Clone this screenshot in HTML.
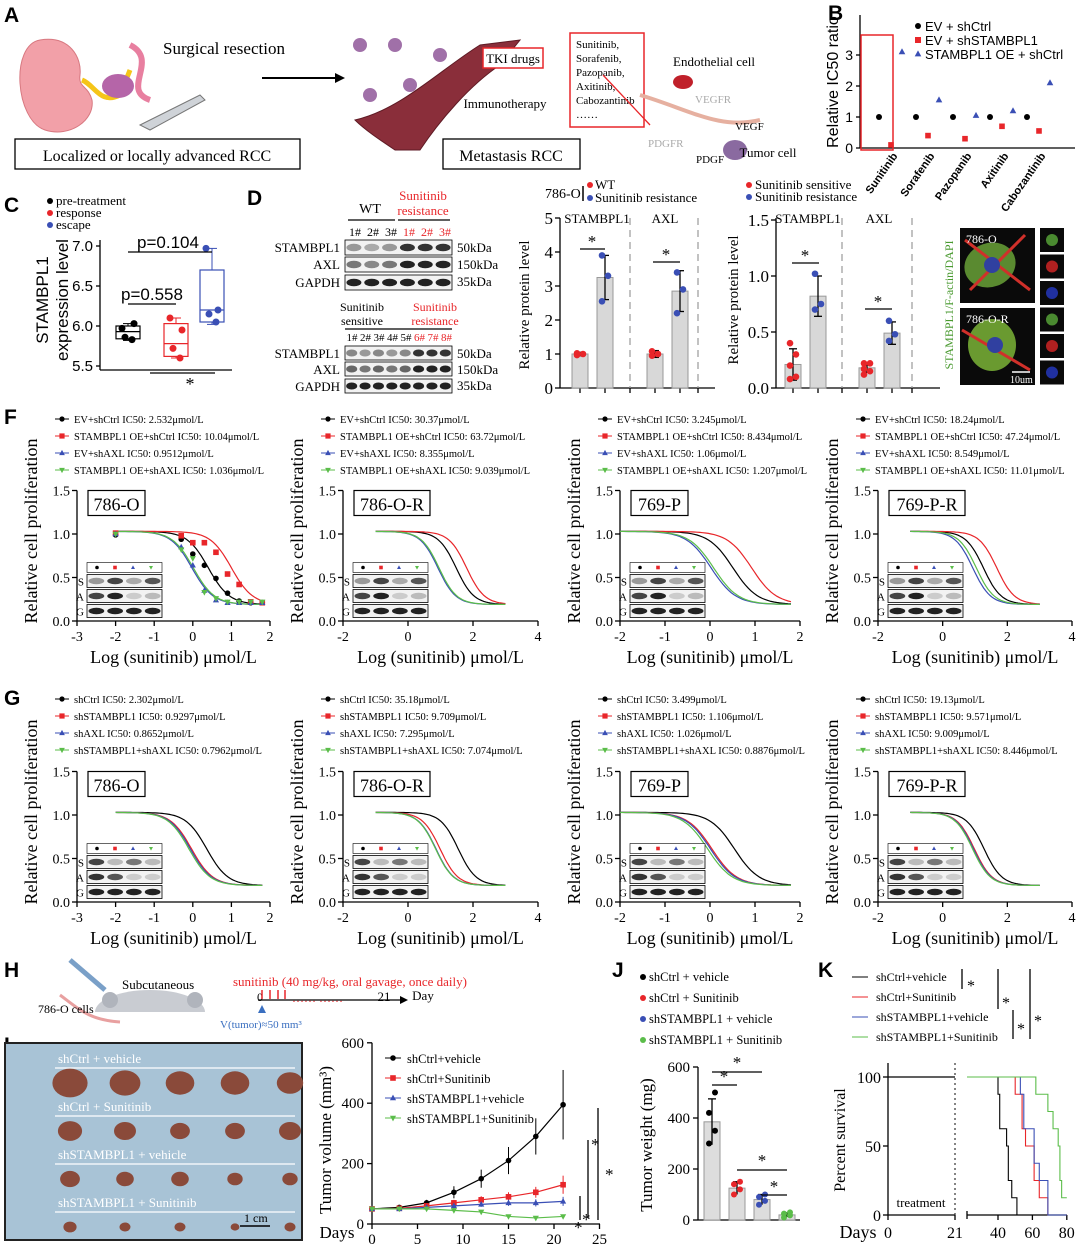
<!DOCTYPE html>
<html><head><meta charset="utf-8">
<style>
html,body{margin:0;padding:0;background:#fff;}
svg{display:block;font-family:"Liberation Serif",serif;}
</style></head>
<body>
<svg id="fig" xmlns="http://www.w3.org/2000/svg" width="1080" height="1244" viewBox="0 0 1080 1244"></svg>
<script>
// ===== Data arrays =====
const bDrugs=['Sunitinib','Sorafenib','Pazopanib','Axitinib','Cabozantinib'];
const bEV=[1,1,1,1,1];
const bSh=[0.1,0.4,0.3,0.7,0.55];
const bOE=[3.1,1.55,1.05,1.2,2.1];
const bTicks=[0,1,2,3];

const cGroups=['pre-treatment','response','escape'];
const cPoints=[[5.97,6.03,5.86,5.83],[6.1,5.95,5.72,5.6],[6.97,6.2,6.15,6.05]];
const cBox=[[5.84,5.93,6.0],[5.62,5.78,6.03],[6.05,6.2,6.7]];
const cWhisk=[[5.82,6.03],[5.6,6.1],[6.02,6.97]];
const cTicks=[5.5,6.0,6.5,7.0];

const d1Vals=[1.0,3.25,1.0,2.85];
const d1Err=[0.05,0.65,0.1,0.6];
const d1Pts=[[0.97,1.0,1.02],[2.55,3.3,3.9],[0.95,1.0,1.08],[2.2,2.9,3.4]];
const d1Ticks=[0,1,2,3,4,5];
const d2Vals=[0.21,0.82,0.18,0.49];
const d2Err=[0.14,0.18,0.04,0.1];
const d2Pts=[[0.08,0.1,0.2,0.3,0.4],[0.7,0.75,1.02],[0.12,0.15,0.17,0.22,0.22],[0.42,0.48,0.6]];
const d2Ticks=[0,0.5,1.0,1.5];

const drCells=['786-O','786-O-R','769-P','769-P-R'];
const fNames=['EV+shCtrl','STAMBPL1 OE+shCtrl','EV+shAXL','STAMBPL1 OE+shAXL'];
const fIC50=[[2.532,10.04,0.9512,1.036],[30.37,63.72,8.355,9.039],[3.245,8.434,1.060,1.207],[18.24,47.24,8.549,11.01]];
const gNames=['shCtrl','shSTAMBPL1','shAXL','shSTAMBPL1+shAXL'];
const gIC50=[[2.302,0.9297,0.8652,0.7962],[35.18,9.709,7.295,7.074],[3.499,1.106,1.026,0.8876],[19.13,9.571,9.009,8.446]];
const drXTicks=[[-3,-2,-1,0,1,2],[-2,0,2,4],[-2,-1,0,1,2],[-2,0,2,4]];
const drDoseRange=[[-2,1.8],[-1,3],[-2,1.8],[-1,3]];
const f1Doses=[-2,-0.3,0,0.3,0.6,0.9,1.2,1.5,1.8];
const f1Pts=[[0.99,0.94,0.77,0.64,0.49,0.32,0.23,0.21,0.21],[1.01,0.98,0.90,0.90,0.79,0.54,0.42,0.22,0.21],[1.0,0.85,0.64,0.35,0.24,0.21,0.21,0.21,0.21],[1.0,0.82,0.72,0.33,0.26,0.22,0.22,0.22,0.22]];

const iDays=[0,3,6,9,12,15,18,21];
const iNames=['shCtrl+vehicle','shCtrl+Sunitinib','shSTAMBPL1+vehicle','shSTAMBPL1+Sunitinib'];
const iVals=[[50,55,70,105,150,210,290,395],[50,52,60,70,80,90,105,130],[50,50,55,60,65,70,70,75],[50,50,50,45,40,25,20,25]];
const iErr=[[5,5,10,20,30,45,60,115],[5,5,8,10,12,15,18,30],[5,5,5,8,8,10,12,15],[5,5,5,5,5,5,5,5]];
const iXTicks=[0,5,10,15,20,25];
const iYTicks=[0,200,400,600];

const jNames=['shCtrl + vehicle','shCtrl + Sunitinib','shSTAMBPL1 + vehicle','shSTAMBPL1 + Sunitinib'];
const jVals=[385,125,80,20];
const jErr=[90,25,20,8];
const jPts=[[300,350,420,500],[100,120,140,150],[60,75,90,100],[10,18,25,30]];
const jTicks=[0,200,400,600];

const kNames=['shCtrl+vehicle','shCtrl+Sunitinib','shSTAMBPL1+vehicle','shSTAMBPL1+Sunitinib'];
const kN=[8,8,8,8];
const kDeaths=[[40,41,41,45,46,46,48,51],[50,54,54,56,61,61,64,69],[53,55,55,61,61,64,69,69],[62,69,72,75,76,76,77]];
const kXTicks=[40,60,80];

const COL=['#000','#e8262a','#3a4fb5','#5bbd4a'];
const MK=['circle','square','tri','tridown'];

// ===== helpers =====
const NS='http://www.w3.org/2000/svg';
const S=document.getElementById('fig');
function mk(tag,attrs,name,parent){
  const e=document.createElementNS(NS,tag);
  for(const k in attrs)e.setAttribute(k,attrs[k]);
  
  
  (parent||S).appendChild(e);return e;
}
function T(x,y,s,size,name,o){
  o=o||{};
  const a={x:x,y:y,'font-size':size,fill:o.fill||'#000'};
  if(o.anchor)a['text-anchor']=o.anchor;
  if(o.weight)a['font-weight']=o.weight;
  if(o.rot!==undefined)a.transform='rotate('+o.rot+' '+x+' '+y+')';
  if(o.sans)a['font-family']='"Liberation Sans",sans-serif';
  const e=mk('text',a,name);e.textContent=s;return e;
}
function L(x1,y1,x2,y2,name,c,w,dash){const a={x1:x1,y1:y1,x2:x2,y2:y2,stroke:c||'#000','stroke-width':w||1.3};if(dash)a['stroke-dasharray']=dash;return mk('line',a,name);}
function R(x,y,w,h,name,fill,stroke,sw){return mk('rect',{x:x,y:y,width:w,height:h,fill:fill||'none',stroke:stroke||'none','stroke-width':sw||1},name);}
function marker(type,x,y,s,c,name){
  if(type==='circle')return mk('circle',{cx:x,cy:y,r:s,fill:c},name);
  if(type==='square')return R(x-s,y-s,2*s,2*s,name,c);
  if(type==='tri')return mk('polygon',{points:`${x},${y-s*1.2} ${x-s*1.1},${y+s*0.8} ${x+s*1.1},${y+s*0.8}`,fill:c},name);
  return mk('polygon',{points:`${x},${y+s*1.2} ${x-s*1.1},${y-s*0.8} ${x+s*1.1},${y-s*0.8}`,fill:c},name);
}
function letter(x,y,s){T(x,y,s,21,'panel-label-'+s.toLowerCase(),{weight:'bold',sans:true});}

// ===== Panel A =====
letter(4,22,'A');
mk('path',{d:'M40 40 C10 45 15 120 45 130 C70 138 95 120 92 100 C88 85 78 88 80 75 C82 58 70 35 40 40Z',fill:'#f2a0a8',stroke:'#d87880'},'kidney');
mk('path',{d:'M82 80 C95 85 100 105 120 95 L130 70',fill:'none',stroke:'#f5c518','stroke-width':5},'ureter');
mk('ellipse',{cx:118,cy:86,rx:16,ry:12,fill:'#b565a8'},'tumor-mass');
mk('path',{d:'M130 45 C160 60 120 90 150 100',fill:'none',stroke:'#e87fa0','stroke-width':6},'renal-vessel');
mk('path',{d:'M140 125 L200 95 L205 100 L150 130 Z',fill:'#cfd3d8',stroke:'#777'},'scalpel');
T(163,54,'Surgical resection',17,'surgical-resection-label');
L(262,78,335,78,'arrow-a','#000',2);
mk('polygon',{points:'335,73 345,78 335,83',fill:'#000'},'arrow-a-head');
R(15,139,285,30,'localized-rcc-box','#fff','#000',1.3);
T(157,161,'Localized or locally advanced RCC',16,'localized-rcc-label',{anchor:'middle'});
mk('path',{d:'M355 120 C400 110 440 70 480 45 L520 40 L500 65 C470 85 440 120 420 150 L395 150 C380 140 365 130 355 120Z',fill:'#8a2e3a',stroke:'#5e1a24'},'blood-vessel');
[[370,95],[395,45],[440,55],[360,45],[410,85]].forEach((p,i)=>mk('circle',{cx:p[0],cy:p[1],r:7,fill:'#a070a8'},'tumor-cell-cluster'));
R(483,48,60,20,'tki-drugs-box','#fff','#e8262a',1.5);
T(513,63,'TKI drugs',13,'tki-drugs-label',{anchor:'middle'});
T(505,108,'Immunotherapy',13,'immunotherapy-label',{anchor:'middle'});
R(570,33,74,94,'drug-list-box','#fff','#e8262a',1.5);
['Sunitinib,','Sorafenib,','Pazopanib,','Axitinib,','Cabozantinib','……'].forEach((s,i)=>T(576,48+i*14,s,11,'drug-list-item'));
R(443,139,137,30,'metastasis-rcc-box','#fff','#000',1.3);
T(511,161,'Metastasis RCC',16,'metastasis-rcc-label',{anchor:'middle'});
T(714,66,'Endothelial cell',13,'endothelial-cell-label',{anchor:'middle'});
mk('ellipse',{cx:683,cy:82,rx:10,ry:7,fill:'#c0202a'},'endothelial-cell');
mk('path',{d:'M640 95 C690 110 720 130 760 120',fill:'none',stroke:'#e6b0a0','stroke-width':4},'vegfr-path');
T(695,103,'VEGFR',11,'vegfr-label',{fill:'#aaa'});
T(735,130,'VEGF',11,'vegf-label');
T(648,147,'PDGFR',11,'pdgfr-label',{fill:'#aaa'});
T(696,163,'PDGF',11,'pdgf-label');
mk('ellipse',{cx:735,cy:150,rx:12,ry:10,fill:'#8a6aa0'},'tumor-cell');
T(768,157,'Tumor cell',13,'tumor-cell-label',{anchor:'middle'});
mk('path',{d:'M603 75 L650 125',stroke:'#e8262a','stroke-width':1.3,fill:'none'},'drug-arrow');

// ===== Panel B =====
letter(828,20,'B');
(function(){
  const x0=860,y0=148,sy=31,xe=1075;
  const ys=v=>y0-v*sy;
  L(x0,y0,xe,y0,'b-x-axis');L(x0,y0,x0,15,'b-y-axis');
  bTicks.forEach(t=>{L(x0-4,ys(t),x0,ys(t),'b-y-tick');T(x0-7,ys(t)+5,String(t),14,'b-y-tick-label',{anchor:'end',sans:true});});
  T(838,82,'Relative IC50 ratio',16,'b-y-axis-title',{anchor:'middle',rot:-90,sans:true});
  R(861,35,32,115,'b-sunitinib-highlight','none','#e8262a',1.5);
  bDrugs.forEach((d,i)=>{
    const cx=890+i*37;
    marker('circle',cx-11,ys(bEV[i]),3,'#000','b-point-ev-shctrl');
    marker('square',cx+1,ys(bSh[i]),2.8,'#e8262a','b-point-ev-shstambpl1');
    marker('tri',cx+12,ys(bOE[i]),3,'#3a4fb5','b-point-oe-shctrl');
    T(cx+8,y0+8,d,11,'b-x-label-'+d.toLowerCase(),{anchor:'end',rot:-55,weight:'bold',sans:true});
  });
  const lg=[['EV + shCtrl','circle','#000'],['EV + shSTAMBPL1','square','#e8262a'],['STAMBPL1 OE + shCtrl','tri','#3a4fb5']];
  lg.forEach((l,i)=>{marker(l[1],918,26+i*14,3,l[2],'b-legend-marker');T(925,31+i*14,l[0],13,'b-legend-entry',{sans:true});});
})();

// ===== Panel C =====
letter(4,212,'C');
(function(){
  const x0=100,y0=370,sy=80,ys=v=>y0-4-(v-5.5)*sy;
  L(x0,240,x0,y0,'c-y-axis');L(x0,y0,232,y0,'c-x-axis');
  cTicks.forEach(t=>{L(x0-4,ys(t),x0,ys(t),'c-y-tick');T(x0-7,ys(t)+5,t.toFixed(1),15,'c-y-tick-label',{anchor:'end',sans:true});});
  T(48,300,'STAMBPL1',17,'c-y-axis-title',{anchor:'middle',rot:-90,sans:true});
  T(68,300,'expression level',17,'c-y-axis-title-2',{anchor:'middle',rot:-90,sans:true});
  const xs=[128,176,212],cols=['#000','#e8262a','#3a4fb5'];
  cGroups.forEach((g,i)=>{
    const x=xs[i],c=cols[i];
    L(x,ys(cWhisk[i][0]),x,ys(cWhisk[i][1]),'c-whisker-'+g,c,1);
    L(x-5,ys(cWhisk[i][0]),x+5,ys(cWhisk[i][0]),'c-whisker-cap',c,1);L(x-5,ys(cWhisk[i][1]),x+5,ys(cWhisk[i][1]),'c-whisker-cap',c,1);
    R(x-12,ys(cBox[i][2]),24,ys(cBox[i][0])-ys(cBox[i][2]),'c-box-'+g,'#fff',c,1.2);
    L(x-12,ys(cBox[i][1]),x+12,ys(cBox[i][1]),'c-median-'+g,c,1.2);
    cPoints[i].forEach((v,j)=>mk('circle',{cx:x+[-6,6,-3,4][j],cy:ys(v),r:3.5,fill:c},'c-point-'+g));
    mk('circle',{cx:50,cy:201+i*12,r:3,fill:c},'c-legend-marker');T(56,205+i*12,g,13,'c-legend-entry');
  });
  L(128,252,212,252,'c-sig-bar');T(168,248,'p=0.104',17,'c-pvalue-1',{anchor:'middle',sans:true});
  L(128,304,176,304,'c-sig-bar');T(152,300,'p=0.558',17,'c-pvalue-2',{anchor:'middle',sans:true});
  L(150,373,215,373,'c-sig-bar');T(190,390,'*',18,'c-sig-star',{anchor:'middle'});
})();

// ===== Panel D blots =====
letter(247,205,'D');
function blotRow(x,y,w,h,n,name,shade){
  R(x,y,w,h,name,'#f2f2f2','#000',0.8);
  for(let i=0;i<n;i++){const bw=w/n;mk('ellipse',{cx:x+bw*(i+0.5),cy:y+h/2,rx:bw*0.42,ry:h*0.25,fill:shade[i]},name+'-band');}
}
T(370,213,'WT',14,'d-wt-label',{anchor:'middle'});L(348,220,395,220,'d-wt-line');
T(423,200,'Sunitinib',13,'d-resist-label',{anchor:'middle',fill:'#e8262a'});T(423,215,'resistance',13,'d-resist-label-2',{anchor:'middle',fill:'#e8262a'});L(398,220,450,220,'d-resist-line');
['1#','2#','3#','1#','2#','3#'].forEach((s,i)=>T(355+i*18,236,s,12,'d-lane-label',{anchor:'middle',fill:i>2?'#e8262a':'#000'}));
blotRow(345,240,107,15,6,'d-blot-stambpl1',['#999','#aaa','#999','#333','#333','#333']);
blotRow(345,257,107,15,6,'d-blot-axl',['#777','#888','#777','#222','#222','#222']);
blotRow(345,275,107,15,6,'d-blot-gapdh',['#222','#222','#222','#222','#222','#222']);
[['STAMBPL1',252],['AXL',269],['GAPDH',287]].forEach(r=>T(340,r[1],r[0],13,'d-blot-label',{anchor:'end'}));
['50kDa','150kDa','35kDa'].forEach((s,i)=>T(457,252+i*17,s,13,'d-kda-label'));
T(362,311,'Sunitinib',12,'d-sens-label',{anchor:'middle'});T(362,325,'sensitive',12,'d-sens-label-2',{anchor:'middle'});
T(435,311,'Sunitinib',12,'d-res2-label',{anchor:'middle',fill:'#e8262a'});T(435,325,'resistance',12,'d-res2-label-2',{anchor:'middle',fill:'#e8262a'});
L(345,329,452,329,'d-group-line');
for(let i=0;i<8;i++)T(352+i*13.5,341,(i+1)+'#',11,'d-lane-label-2',{anchor:'middle',fill:i>4?'#e8262a':'#000'});
blotRow(345,346,107,14,8,'d-blot2-stambpl1',['#888','#999','#888','#999','#888','#333','#333','#333']);
blotRow(345,362,107,14,8,'d-blot2-axl',['#666','#777','#666','#777','#666','#222','#222','#222']);
blotRow(345,379,107,14,8,'d-blot2-gapdh',['#222','#222','#222','#222','#222','#222','#222','#222']);
[['STAMBPL1',358],['AXL',374],['GAPDH',391]].forEach(r=>T(340,r[1],r[0],13,'d-blot2-label',{anchor:'end'}));
['50kDa','150kDa','35kDa'].forEach((s,i)=>T(457,358+i*16,s,13,'d-kda2-label'));

// ===== Panel D bar charts =====
function barChart(cfg){
  const ys=v=>cfg.y0-v*cfg.sy;
  L(cfg.x0,cfg.top,cfg.x0,cfg.y0,cfg.id+'-y-axis');L(cfg.x0,cfg.y0,cfg.xe,cfg.y0,cfg.id+'-x-axis');
  cfg.ticks.forEach(t=>{L(cfg.x0-5,ys(t),cfg.x0,ys(t),cfg.id+'-y-tick');T(cfg.x0-7,ys(t)+6,cfg.fmt(t),17,cfg.id+'-y-tick-label',{anchor:'end'});});
  cfg.divs.forEach(d=>L(d,cfg.top,d,cfg.y0,cfg.id+'-divider','#999',1.2,'7,5'));
  cfg.vals.forEach((v,i)=>{
    const x=cfg.xs[i];
    L(x,cfg.y0,x,cfg.y0+5,cfg.id+'-x-tick');
    R(x-8,ys(v),16,cfg.y0-ys(v),cfg.id+'-bar','#d8d8d8','#999',1);
    L(x,ys(v-cfg.err[i]),x,ys(v+cfg.err[i]),cfg.id+'-errbar');L(x-4,ys(v+cfg.err[i]),x+4,ys(v+cfg.err[i]),cfg.id+'-errcap');L(x-4,ys(v-cfg.err[i]),x+4,ys(v-cfg.err[i]),cfg.id+'-errcap');
    cfg.pts[i].forEach((p,j)=>mk('circle',{cx:x+(j%2?3:-3),cy:ys(p),r:3.3,fill:i%2?'#3a4fb5':'#e8262a'},cfg.id+'-point'));
  });
  cfg.divs.forEach(d=>L(d,cfg.y0,d,cfg.y0+5,cfg.id+'-x-tick'));
}
barChart({id:'d1',x0:560,y0:388,sy:34,top:218,xe:715,divs:[630,698],ticks:d1Ticks,fmt:t=>String(t),vals:d1Vals,err:d1Err,pts:d1Pts,xs:[580,605,655,680]});
T(529,305,'Relative protein level',15,'d1-y-axis-title',{anchor:'middle',rot:-90});
T(597,223,'STAMBPL1',13,'d1-stambpl1-label',{anchor:'middle'});T(665,223,'AXL',13,'d1-axl-label',{anchor:'middle'});
L(580,249,605,249,'d1-sig');T(592,247,'*',17,'d1-star',{anchor:'middle'});L(653,262,680,262,'d1-sig');T(666,260,'*',17,'d1-star',{anchor:'middle'});
T(545,198,'786-O',14,'d1-legend-cell');L(583,186,583,201,'d1-legend-bar','#000',1.5);
mk('circle',{cx:590,cy:185,r:3,fill:'#e8262a'},'d1-legend-marker');T(595,189,'WT',13,'d1-legend-wt');
mk('circle',{cx:590,cy:198,r:3,fill:'#3a4fb5'},'d1-legend-marker');T(595,202,'Sunitinib resistance',13,'d1-legend-resist');
barChart({id:'d2',x0:776,y0:388,sy:112,top:218,xe:940,divs:[842,912],ticks:d2Ticks,fmt:t=>t.toFixed(1),vals:d2Vals,err:d2Err,pts:d2Pts,xs:[793,818,867,892]});
T(738,300,'Relative protein level',15,'d2-y-axis-title',{anchor:'middle',rot:-90});
T(808,223,'STAMBPL1',13,'d2-stambpl1-label',{anchor:'middle'});T(879,223,'AXL',13,'d2-axl-label',{anchor:'middle'});
L(792,263,819,263,'d2-sig');T(805,261,'*',17,'d2-star',{anchor:'middle'});L(865,309,892,309,'d2-sig');T(878,307,'*',17,'d2-star',{anchor:'middle'});
mk('circle',{cx:749,cy:185,r:3,fill:'#e8262a'},'d2-legend-marker');T(755,189,'Sunitinib sensitive',13,'d2-legend-sens');
mk('circle',{cx:749,cy:197,r:3,fill:'#3a4fb5'},'d2-legend-marker');T(755,201,'Sunitinib resistance',13,'d2-legend-resist');

// ===== Panel E =====
T(1046,250,'E',21,'panel-label-e',{weight:'bold',sans:true});
R(960,228,75,75,'e-image-786o','#0a0a0a');R(960,308,75,77,'e-image-786or','#0a0a0a');
mk('ellipse',{cx:990,cy:265,rx:26,ry:22,fill:'#5a8a30',transform:'rotate(-20 990 265)'},'e-cell');
mk('ellipse',{cx:992,cy:345,rx:24,ry:26,fill:'#6a9a30'},'e-cell');
mk('path',{d:'M965 240 L1030 290 M970 290 L1025 235 M962 330 L1030 370',stroke:'#d0302a','stroke-width':3,fill:'none'},'e-actin');
mk('circle',{cx:992,cy:265,r:8,fill:'#3040a0'},'e-nucleus');mk('circle',{cx:995,cy:345,r:8,fill:'#3040a0'},'e-nucleus');
for(let i=0;i<6;i++){R(1040,228+i*26.5,24,24,'e-channel-tile','#0a0a0a');mk('circle',{cx:1052,cy:240+i*26.5,r:6,fill:['#4a8a30','#b02020','#2030a0'][i%3]},'e-channel-signal');}
T(966,243,'786-O',12,'e-label-786o',{fill:'#fff'});T(966,323,'786-O-R',12,'e-label-786or',{fill:'#fff'});
L(1012,372,1030,372,'e-scale-bar','#fff',1.5);T(1010,383,'10um',10,'e-scale-label',{fill:'#fff'});
T(953,305,'STAMBPL1/F-actin/DAPI',12,'e-stain-label',{anchor:'middle',rot:-90,fill:'#4a9a30'});

// ===== Panels F & G dose-response =====
const drX=[[77,270,-3,2],[343,538,-2,4],[620,800,-2,2],[878,1072,-2,4]];
function drChart(ci,row,ic50,names,pts){
  const off=row*281, y0=621+off, sy=87;
  const [xl,xr,xmin,xmax]=drX[ci];
  const xs=v=>xl+(v-xmin)*(xr-xl)/(xmax-xmin), ys=v=>y0-v*sy;
  const id=(row?'g':'f')+(ci+1);
  L(xl,ys(1.5),xl,y0,id+'-y-axis');L(xl,y0,xr,y0,id+'-x-axis');
  [0,0.5,1,1.5].forEach(t=>{L(xl-5,ys(t),xl,ys(t),id+'-y-tick');T(xl-7,ys(t)+5,t.toFixed(1),14,id+'-y-tick-label',{anchor:'end'});});
  drXTicks[ci].forEach(t=>{L(xs(t),y0,xs(t),y0+5,id+'-x-tick');T(xs(t),y0+20,String(t),14,id+'-x-tick-label',{anchor:'middle'});});
  T(xl-40,y0-90,'Relative cell proliferation',18,id+'-y-axis-title',{anchor:'middle',rot:-90});
  T((xl+xr)/2,y0+42,'Log (sunitinib) μmol/L',18,id+'-x-axis-title',{anchor:'middle'});
  const bw=ci%2?76:57;
  R(xl+11,ys(1.5),bw,25,id+'-cell-box','#fff','#000',1.2);
  T(xl+11+bw/2,ys(1.5)+20,drCells[ci],18,id+'-cell-label',{anchor:'middle'});
  const [d0,d1]=drDoseRange[ci];
  ic50.forEach((v,s)=>{
    const lic=Math.log10(v);let p='';
    for(let k=0;k<=60;k++){const x=d0+(d1-d0)*k/60;const y=0.19+(1.03-0.19)/(1+Math.pow(10,(x-lic)*1.6));p+=(k?'L':'M')+xs(x).toFixed(1)+' '+ys(y).toFixed(1);}
    mk('path',{d:p,fill:'none',stroke:COL[s],'stroke-width':1.2},id+'-curve-'+s);
    const ly=row?703+s*17:423+s*17;
    L(xl-22,ly-4,xl-8,ly-4,id+'-legend-line',COL[s],1);marker(MK[s],xl-15,ly-4,2.6,COL[s],id+'-legend-marker');
    T(xl-3,ly,names[s]+' IC50: '+v+'μmol/L',10.5,id+'-legend-entry');
  });
  if(pts)pts.forEach((arr,s)=>arr.forEach((v,k)=>marker(MK[s],xs(f1Doses[k]),ys(v),2.8,COL[s],id+'-point-'+s)));
  const bx=xl+10,by=ys(1.5)+75;
  R(bx,by-3,75,10,id+'-inset-marker-row','#fff','#000',0.6);
  ['circle','square','tri','tridown'].forEach((m,s)=>marker(m,bx+10+s*18,by+2,1.8,COL[s],id+'-inset-marker'));
  const sh=[['#999','#444','#aaa','#555'],['#444','#222','#ccc','#bbb'],['#222','#222','#222','#222']];
  if(row===1){sh[0]=['#444','#bbb','#777','#bbb'];sh[1]=['#333','#555','#ccc','#ccc'];}
  ['S','A','G'].forEach((r,j)=>{blotRow(bx,by+9+j*15,75,13,4,id+'-inset-blot-'+r.toLowerCase(),sh[j]);T(bx-3,by+20+j*15,r,11,id+'-inset-label',{anchor:'end'});});
}
letter(4,424,'F');letter(4,705,'G');
for(let c=0;c<4;c++){drChart(c,0,fIC50[c],fNames,c===0?f1Pts:null);drChart(c,1,gIC50[c],gNames,null);}

// ===== Panel H =====
letter(4,977,'H');
mk('ellipse',{cx:150,cy:1012,rx:55,ry:22,fill:'#c9ccd2'},'mouse-body');
mk('circle',{cx:110,cy:1000,r:8,fill:'#b0b4bc'},'mouse-ear');mk('circle',{cx:195,cy:1000,r:8,fill:'#b0b4bc'},'mouse-ear');
R(90,1012,120,22,'mouse-base','#fff');
mk('path',{d:'M70 960 L105 990',stroke:'#7aa0c8','stroke-width':5},'syringe');
mk('path',{d:'M60 995 C80 1010 90 1020 120 1022',stroke:'#e8a0a0','stroke-width':3,fill:'none'},'mouse-tail');
T(122,989,'Subcutaneous',13,'h-subcutaneous-label');T(38,1013,'786-O cells',12,'h-cells-label');
T(233,986,'sunitinib (40 mg/kg, oral gavage, once daily)',13,'h-treatment-label',{fill:'#e8262a'});
L(258,1000,400,1000,'h-timeline');mk('polygon',{points:'400,996 408,1000 400,1004',fill:'#000'},'h-timeline-arrow');
T(260,1001,'0',12,'h-day0-label',{anchor:'middle'});T(384,1001,'21',13,'h-day21-label',{anchor:'middle'});
T(423,1000,'Day',13,'h-day-label',{anchor:'middle'});
[262,270,278,285].forEach(x=>{L(x,990,x,999,'h-dose-arrow','#e8262a',1.5);});
T(292,1002,'…… ……',12,'h-dose-dots',{fill:'#e8262a'});
mk('polygon',{points:'258,1013 262,1005 266,1013',fill:'#3a6fc0'},'h-volume-marker');
T(220,1028,'V(tumor)≈50 mm³',11,'h-volume-label',{fill:'#3a6fc0'});

// ===== Panel I photo =====
letter(4,1052,'I');
R(5,1043,297,197,'i-tumor-photo','#a8c3d6','#222',2);
['shCtrl + vehicle','shCtrl + Sunitinib','shSTAMBPL1 + vehicle','shSTAMBPL1 + Sunitinib'].forEach((s,i)=>{
  T(58,1063+i*48,s,13,'i-photo-label',{fill:'#fff'});L(55,1068+i*48,295,1068+i*48,'i-photo-line','#fff',1.3);
  const rs=[[16,14,13,13,12],[11,10,9,9,10],[9,8,8,7,7],[6,5,5,4,5]][i];
  rs.forEach((r,j)=>mk('ellipse',{cx:70+j*55,cy:1083+i*48,rx:r*1.1,ry:r*0.9,fill:'#8a4a3a'},'i-tumor'));
});
L(240,1226,270,1226,'i-scale-bar','#000',1.5);T(244,1222,'1 cm',12,'i-scale-label');

// ===== Panel I growth chart =====
(function(){
  const x0=372,y0=1224,xs=v=>x0+v*9.1,ys=v=>y0-v*0.302;
  L(x0,ys(600),x0,y0,'i-y-axis');L(x0,y0,600,y0,'i-x-axis');
  iYTicks.forEach(t=>{L(x0-5,ys(t),x0,ys(t),'i-y-tick');T(x0-8,ys(t)+5,String(t),15,'i-y-tick-label',{anchor:'end'});});
  iXTicks.forEach(t=>{L(xs(t),y0,xs(t),y0+5,'i-x-tick');T(xs(t),y0+20,String(t),15,'i-x-tick-label',{anchor:'middle'});});
  T(331,1140,'Tumor volume (mm³)',17,'i-y-axis-title',{anchor:'middle',rot:-90});
  T(337,1238,'Days',17,'i-x-axis-title',{anchor:'middle'});
  iVals.forEach((arr,s)=>{
    let p='';arr.forEach((v,k)=>{p+=(k?'L':'M')+xs(iDays[k])+' '+ys(v);});
    mk('path',{d:p,fill:'none',stroke:COL[s],'stroke-width':1.2},'i-line-'+s);
    arr.forEach((v,k)=>{L(xs(iDays[k]),ys(v-iErr[s][k]),xs(iDays[k]),ys(v+iErr[s][k]),'i-errbar',COL[s],1);marker(MK[s],xs(iDays[k]),ys(v),2.8,COL[s],'i-point-'+s);});
    L(385,1058+s*20,401,1058+s*20,'i-legend-line',COL[s],1);marker(MK[s],393,1058+s*20,2.8,COL[s],'i-legend-marker');
    T(407,1063+s*20,iNames[s],12.5,'i-legend-entry');
  });
  L(598,1108,598,1220,'i-sig-bracket');T(605,1180,'*',17,'i-sig-star');
  L(588,1140,588,1218,'i-sig-bracket');T(591,1150,'*',17,'i-sig-star');
  L(580,1196,580,1220,'i-sig-bracket');T(582,1225,'*',17,'i-sig-star');
  T(574,1233,'*',17,'i-sig-star');
})();

// ===== Panel J =====
letter(612,977,'J');
(function(){
  const x0=698,y0=1220,ys=v=>y0-v*0.255;
  jNames.forEach((n,s)=>{mk('circle',{cx:643,cy:977+s*21,r:3,fill:COL[s]},'j-legend-marker');T(649,981+s*21,n,12.5,'j-legend-entry');});
  L(x0,ys(600),x0,y0,'j-y-axis');L(x0,y0,800,y0,'j-x-axis');
  jTicks.forEach(t=>{L(x0-5,ys(t),x0,ys(t),'j-y-tick');T(x0-8,ys(t)+5,String(t),15,'j-y-tick-label',{anchor:'end'});});
  T(652,1145,'Tumor weight (mg)',17,'j-y-axis-title',{anchor:'middle',rot:-90});
  jVals.forEach((v,i)=>{
    const x=712+i*25;
    R(x-8,ys(v),16,y0-ys(v),'j-bar','#ddd','#999',1);
    L(x,ys(v-jErr[i]),x,ys(v+jErr[i]),'j-errbar');L(x-4,ys(v+jErr[i]),x+4,ys(v+jErr[i]),'j-errcap');
    jPts[i].forEach((p,j)=>mk('circle',{cx:x+(j%2?3:-3),cy:ys(p),r:3,fill:COL[i]},'j-point'));
  });
  L(712,1072,762,1072,'j-sig');T(737,1068,'*',17,'j-star',{anchor:'middle'});
  L(712,1085,737,1085,'j-sig');T(724,1082,'*',17,'j-star',{anchor:'middle'});
  L(737,1170,787,1170,'j-sig');T(762,1166,'*',17,'j-star',{anchor:'middle'});
  L(762,1195,787,1195,'j-sig');T(774,1192,'*',17,'j-star',{anchor:'middle'});
})();

// ===== Panel K =====
letter(818,977,'K');
(function(){
  kNames.forEach((n,s)=>{L(852,977+s*20,868,977+s*20,'k-legend-line',COL[s],1);T(876,981+s*20,n,12,'k-legend-entry');});
  L(962,969,962,989,'k-sig');T(967,991,'*',16,'k-star');L(998,969,998,1009,'k-sig');T(1002,1008,'*',16,'k-star');
  L(1030,969,1030,1039,'k-sig');T(1034,1026,'*',16,'k-star');L(1013,1010,1013,1039,'k-sig');T(1017,1034,'*',16,'k-star');
  const x0=888,y0=1215,ys=v=>y0-v*1.38;
  const xs=d=>d<=21?x0+d*3.2:998+(d-40)*1.72;
  L(x0,1063,x0,y0,'k-y-axis');L(x0,y0,955,y0,'k-x-axis-left');L(967,y0,1067,y0,'k-x-axis-right');
  L(967,y0-4,967,y0+4,'k-break-tick');
  [0,50,100].forEach(t=>{L(x0-5,ys(t),x0,ys(t),'k-y-tick');T(x0-7,ys(t)+6,String(t),16,'k-y-tick-label',{anchor:'end'});});
  T(845,1140,'Percent survival',16,'k-y-axis-title',{anchor:'middle',rot:-90});
  T(858,1238,'Days',18,'k-x-axis-title',{anchor:'middle'});
  [[0,x0],[21,955]].forEach(t=>{L(t[1],y0,t[1],y0+5,'k-x-tick');T(t[1],y0+23,String(t[0]),16,'k-x-tick-label',{anchor:'middle'});});
  kXTicks.forEach(t=>{L(xs(t),y0,xs(t),y0+5,'k-x-tick');T(xs(t),y0+23,String(t),16,'k-x-tick-label',{anchor:'middle'});});
  L(955,1063,955,1215,'k-treatment-line','#333',1.2,'2,3');
  T(921,1207,'treatment',13,'k-treatment-label',{anchor:'middle'});
  L(x0,ys(100),955,ys(100),'k-pre-line','#000',1.2);
  kDeaths.forEach((arr,s)=>{
    let p='M967 '+ys(100),pct=100;const n=kN[s];
    arr.forEach(d=>{p+='L'+xs(d)+' '+ys(pct);pct-=100/n;p+='L'+xs(d)+' '+ys(pct);});
    p+='L'+xs(Math.max(arr[arr.length-1],80))+' '+ys(pct);
    mk('path',{d:p,fill:'none',stroke:COL[s],'stroke-width':1.1},'k-survival-curve-'+s);
  });
})();
</script>
</body></html>
